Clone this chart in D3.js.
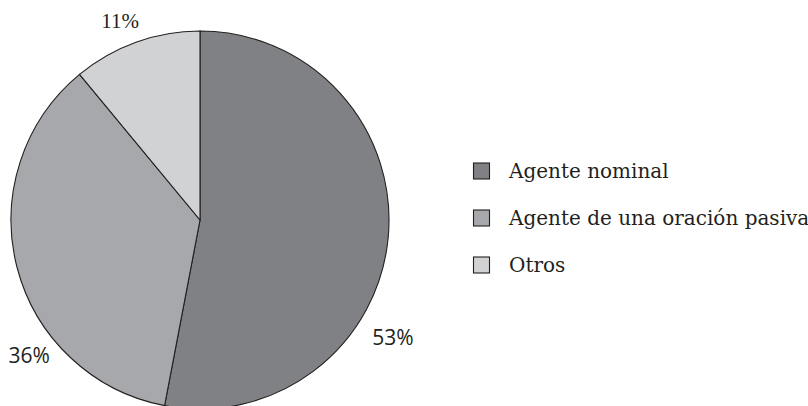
<!DOCTYPE html>
<html>
<head>
<meta charset="utf-8">
<script src="https://cdn.jsdelivr.net/npm/d3@7"></script>
<style>
  body { margin: 0; background: #fff; }
  svg { display: block; }
</style>
</head>
<body>
<svg id="chart" width="808" height="406"></svg>
<script>
// datos
var categorias = ['Agente nominal', 'Agente de una oración pasiva', 'Otros'];
var valores = [53, 36, 11];
var etiquetas = ['53%', '36%', '11%'];

var colores = d3.scaleOrdinal()
  .domain(categorias)
  .range(['#808185', '#a7a8ab', '#d1d2d4']);

var svg = d3.select('#chart');

var cx = 200, cy = 220, radio = 189;

// angulo extra (grados) y radio para cada etiqueta
var etiqAng = [26, -24, -2];
var etiqRad = [226, 218, 215];

var pie = d3.pie().sort(null).value(d => d.v);
var datos = categorias.map((c, i) => ({c: c, v: valores[i], e: etiquetas[i]}));
var arcos = pie(datos);

var arco = d3.arc().innerRadius(0).outerRadius(radio);

var gPie = svg.append('g').attr('transform', 'translate(' + cx + ',' + cy + ')');

gPie.selectAll('.slice')
  .data(arcos)
  .join('path')
  .attr('class', 'slice')
  .attr('d', arco)
  .attr('fill', d => colores(d.data.c))
  .attr('stroke', '#231f20')
  .attr('stroke-width', 1.1);

gPie.selectAll('.etiq')
  .data(arcos)
  .join('text')
  .attr('class', 'etiq')
  .attr('x', (d, i) => {
    var a = (d.startAngle + d.endAngle) / 2 + etiqAng[i] * Math.PI / 180;
    return Math.sin(a) * etiqRad[i];
  })
  .attr('y', (d, i) => {
    var a = (d.startAngle + d.endAngle) / 2 + etiqAng[i] * Math.PI / 180;
    return -Math.cos(a) * etiqRad[i];
  })
  .attr('dy', '0.35em')
  .attr('text-anchor', 'middle')
  .attr('font-family', (d, i) => i == 2 ? 'Liberation Serif, serif' : 'Open Sans, sans-serif')
  .attr('font-size', (d, i) => i == 2 ? 21 : 21)
  .attr('fill', '#231f20')
  .text(d => d.data.e);

// leyenda
var leyenda = svg.append('g').attr('transform', 'translate(473,171)');

var items = leyenda.selectAll('.item')
  .data(categorias)
  .join('g')
  .attr('class', 'item')
  .attr('transform', (d, i) => 'translate(0,' + (i * 47) + ')');

items.append('rect')
  .attr('x', 0.5)
  .attr('y', -8)
  .attr('width', 16)
  .attr('height', 16)
  .attr('fill', d => colores(d))
  .attr('stroke', '#231f20')
  .attr('stroke-width', 1.1);

items.append('text')
  .attr('x', 36)
  .attr('y', 7)
  .attr('font-family', 'DejaVu Serif, serif')
  .attr('font-size', 20)
  .attr('fill', '#231f20')
  .text(d => d);
</script>
</body>
</html>
